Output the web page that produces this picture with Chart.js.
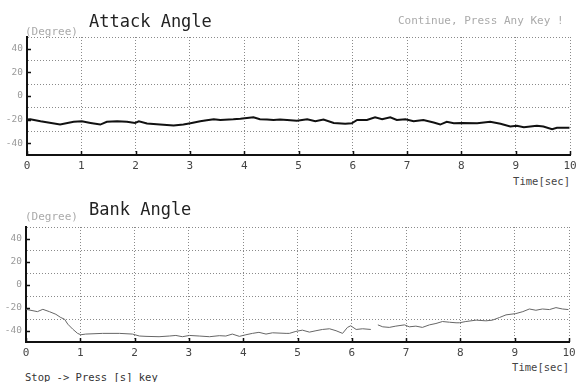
<!DOCTYPE html>
<html lang="en">
<head>
    <meta charset="UTF-8">
    <title>Attack Angle / Bank Angle</title>
    <script src="https://cdn.jsdelivr.net/npm/chart.js"></script>
    <style>
        body { margin: 0; background: #fff; }
        .stage { position: relative; width: 586px; height: 382px; overflow: hidden; font-family: "DejaVu Sans Mono", monospace; }
        .plot { position: absolute; left: 0; width: 586px; }
        #attackWrap { top: 0; height: 175px; }
        #bankWrap { top: 190px; height: 170px; }
        .txt { position: absolute; white-space: pre; }
        .title { font-size: 17px; line-height: 18px; color: #222; }
        .unit { font-size: 11px; line-height: 12px; color: #aaa; }
        .note { font-size: 10.5px; line-height: 12px; color: #444; }
    </style>
</head>
<body>
<div class="stage">
    <div class="plot" id="attackWrap"><canvas id="attackChart"></canvas></div>
    <div class="plot" id="bankWrap"><canvas id="bankChart"></canvas></div>

    <div class="txt title" style="left:89px; top:12px;">Attack Angle</div>
    <div class="txt unit" style="left:25px; top:26px;">(Degree)</div>
    <div class="txt unit" style="left:398px; top:15px;">Continue, Press Any Key !</div>
    <div class="txt note" style="right:16px; top:175px;">Time[sec]</div>

    <div class="txt title" style="left:89px; top:200px;">Bank Angle</div>
    <div class="txt unit" style="left:25px; top:211px;">(Degree)</div>
    <div class="txt note" style="right:17px; top:361px;">Time[sec]</div>
    <div class="txt note" style="left:25px; top:371px; color:#333;">Stop -&gt; Press [s] key</div>
</div>

<script>
    // attack angle trace (sec, degree)
    const attackTime = [0, 0.06, 0.25, 0.61, 0.86, 1.01, 1.17, 1.35, 1.47, 1.66, 1.84, 1.99, 2.06, 2.21, 2.45, 2.70, 2.88, 3.01, 3.19, 3.31,
        3.44, 3.56, 3.80, 3.93, 4.05, 4.17, 4.29, 4.42, 4.54, 4.66, 4.79, 4.97, 5.16, 5.31, 5.46, 5.65, 5.86, 5.98, 6.08, 6.26,
        6.41, 6.54, 6.69, 6.81, 6.97, 7.12, 7.30, 7.49, 7.61, 7.73, 7.86, 8.01, 8.29, 8.53, 8.72, 8.90, 9.02, 9.15, 9.27, 9.39,
        9.51, 9.67, 9.76, 9.99];
    const attackAngle = [-20, -19.7, -21.4, -24.2, -21.9, -21.4, -22.8, -24.2, -21.9, -21.4, -21.9, -22.8, -21.4, -23.3, -24.2, -25.0, -24.2, -23.1, -21.4, -20.6,
        -19.7, -20.3, -19.7, -19.2, -18.6, -18.0, -19.7, -20.0, -20.3, -20.0, -20.3, -21.0, -19.7, -21.4, -20.0, -22.8, -23.6, -23.1, -20.3, -20.3,
        -18.0, -19.7, -18.0, -20.3, -19.7, -21.4, -20.3, -22.5, -24.2, -21.9, -23.1, -22.8, -23.1, -21.9, -23.6, -25.8, -25.3, -26.4, -25.8, -25.3,
        -25.8, -28.1, -26.9, -26.9];

    // bank angle trace (null = gap in the recording)
    const bankTime = [0, 0.21, 0.31, 0.43, 0.55, 0.64, 0.71, 0.77, 0.86, 0.95, 1.01, 1.10, 1.41, 1.72, 1.96, 2.09, 2.21, 2.45, 2.64, 2.76,
        2.88, 3.01, 3.19, 3.38, 3.56, 3.68, 3.80, 3.93, 4.05, 4.17, 4.29, 4.42, 4.54, 4.79, 4.85, 4.97, 5.09, 5.22, 5.34, 5.46,
        5.59, 5.71, 5.83, 5.92, 5.98, 6.08, 6.20, 6.35, 6.42, 6.48, 6.57, 6.69, 6.81, 6.97, 7.06, 7.18, 7.30, 7.43, 7.55, 7.67,
        7.80, 7.92, 7.98, 8.10, 8.29, 8.47, 8.59, 8.72, 8.84, 9.02, 9.15, 9.27, 9.39, 9.51, 9.64, 9.76, 9.88, 9.99];
    const bankAngle = [-21.6, -23.6, -21.6, -23.6, -25.9, -28.7, -30.2, -34.5, -38.8, -42.5, -43.7, -43.1, -42.5, -42.5, -43.1, -44.8, -45.1, -45.4, -44.8, -44.3,
        -45.4, -44.3, -44.8, -45.4, -44.5, -44.8, -43.1, -45.1, -43.7, -42.5, -41.6, -43.1, -42.0, -42.5, -42.5, -40.8, -39.7, -41.4, -40.2, -39.1,
        -38.5, -40.2, -42.5, -37.3, -35.9, -39.1, -38.5, -39.1, null, -35.1, -36.8, -37.3, -36.2, -35.1, -36.8, -36.2, -37.3, -35.1, -33.9, -32.2,
        -32.8, -33.3, -33.3, -32.2, -31.0, -31.6, -31.0, -28.7, -26.4, -25.3, -23.6, -21.3, -22.4, -21.3, -21.8, -20.1, -21.3, -21.8];

    const timeTicks = [0, 1, 2, 3, 4, 5, 6, 7, 8, 9, 10];
    const degreeLabels = [40, 20, 0, -20, -40];

    const mono = "'DejaVu Sans Mono', monospace";

    // short tick marks pointing into the plot, like the old plotter output
    const innerTicks = {
        id: 'innerTicks',
        afterDraw(chart) {
            const {ctx, chartArea, scales} = chart;
            ctx.save();
            ctx.strokeStyle = '#111';
            ctx.lineWidth = 1.5;
            ctx.beginPath();
            degreeLabels.forEach(v => {
                const y = Math.round(scales.y.getPixelForValue(v)) + 0.5;
                ctx.moveTo(chartArea.left, y);
                ctx.lineTo(chartArea.left + 4, y);
            });
            timeTicks.forEach(t => {
                const x = Math.round(scales.x.getPixelForValue(t)) + 0.5;
                ctx.moveTo(x, chartArea.bottom);
                ctx.lineTo(x, chartArea.bottom - 4);
            });
            ctx.stroke();
            ctx.restore();
        }
    };

    function makeChart(id, times, values, lineColor, lineWidth, pad, xHeight, yWidth) {
        return new Chart(document.getElementById(id), {
            type: 'line',
            data: {
                datasets: [{
                    data: times.map((t, i) => ({x: t, y: values[i]})),
                    borderColor: lineColor,
                    borderWidth: lineWidth,
                    pointRadius: 0,
                    tension: 0,
                    spanGaps: false
                }]
            },
            options: {
                responsive: true,
                maintainAspectRatio: false,
                animation: false,
                layout: { padding: pad },
                plugins: { legend: { display: false }, tooltip: { enabled: false } },
                scales: {
                    x: {
                        type: 'linear',
                        min: 0,
                        max: 10,
                        afterBuildTicks: s => { s.ticks = timeTicks.map(v => ({value: v})); },
                        afterFit: s => { s.height = xHeight; },
                        ticks: {
                            autoSkip: false,
                            maxRotation: 0,
                            padding: 5,
                            color: '#444',
                            font: { family: mono, size: 11 }
                        },
                        grid: {
                            drawTicks: false,
                            color: c => c.tick && c.tick.value > 0 ? '#8a8a8a' : 'rgba(0,0,0,0)',
                            lineWidth: 1
                        },
                        border: { display: true, color: '#111', width: 2, dash: [1, 2] }
                    },
                    y: {
                        min: -50,
                        max: 50,
                        afterBuildTicks: s => {
                            const list = [];
                            for (let v = 50; v >= -50; v -= 10) list.push({value: v});
                            s.ticks = list;
                        },
                        afterFit: s => { s.width = yWidth; },
                        ticks: {
                            autoSkip: false,
                            padding: 4,
                            color: '#9a9a9a',
                            font: { family: mono, size: 9.5 },
                            callback: v => degreeLabels.includes(v) ? String(v) : ''
                        },
                        grid: {
                            drawTicks: false,
                            color: c => c.tick && Math.abs(c.tick.value) % 20 === 10 && c.tick.value > -50 ? '#8a8a8a' : 'rgba(0,0,0,0)',
                            lineWidth: 1
                        },
                        border: { display: true, color: '#111', width: 2, dash: [1, 2] }
                    }
                }
            },
            plugins: [innerTicks]
        });
    }

    makeChart('attackChart', attackTime, attackAngle, '#111', 2, {top: 37, right: 16, bottom: 0, left: 0}, 20, 27);
    makeChart('bankChart', bankTime, bankAngle, '#666', 1, {top: 37, right: 17, bottom: 0, left: 0}, 18, 26);
</script>
</body>
</html>
